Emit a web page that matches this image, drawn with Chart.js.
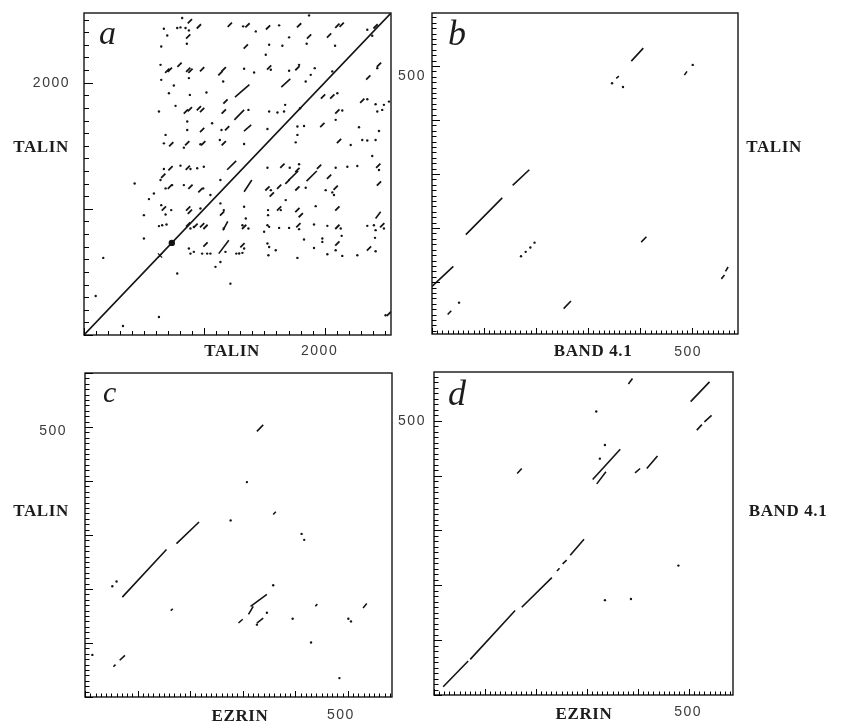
<!DOCTYPE html>
<html>
<head>
<meta charset="utf-8">
<script src="https://cdn.jsdelivr.net/npm/chart.js@4.4.1/dist/chart.umd.min.js"></script>
<style>
  html, body { margin: 0; padding: 0; background: #fff; }
  #wrap { position: relative; width: 841px; height: 721px; overflow: hidden; }
  #wrap canvas { position: absolute; left: 0; top: 0; }
</style>
</head>
<body>
<div id="wrap">
  <canvas id="panelA" width="841" height="721"></canvas>
  <canvas id="panelB" width="841" height="721"></canvas>
  <canvas id="panelC" width="841" height="721"></canvas>
  <canvas id="panelD" width="841" height="721"></canvas>
</div>
<script>
// ---- panel a: talin vs talin (residues) ----
const aSegments = [
  [0, 0, 2552, 2552],
  [1255, 1885, 1375, 1985], [1640, 1965, 1715, 2030], [1330, 1615, 1390, 1665],
  [1250, 1705, 1331, 1784], [1190, 1310, 1265, 1380], [1155, 830, 1195, 900],
  [1120, 645, 1204, 751], [1331, 1135, 1395, 1228], [1700, 1225, 1780, 1300],
  [1850, 1220, 1935, 1300], [2424, 923, 2466, 976]
];
const aDashes = [
  [880, 2486], [955, 2446], [1212, 2459], [866, 2366], [692, 2094], [714, 2102], [794, 2141],
  [866, 2102], [885, 2094], [982, 2107], [1162, 2107], [1134, 2075], [847, 1771], [880, 1789],
  [955, 1797], [982, 1784], [1162, 1771], [1176, 1850], [1190, 1639], [982, 1625], [725, 1512],
  [858, 1519], [991, 1519], [1162, 1519], [719, 1321], [863, 1326],
  [1359, 2454], [1530, 2438], [1788, 2454], [2142, 2459], [2106, 2451], [2424, 2446], [1871, 2366],
  [2037, 2374], [1345, 2287], [1539, 2120], [1774, 2115], [2452, 2141], [2363, 2041], [1987, 1890],
  [2064, 1890], [2313, 1856], [2106, 1771], [1981, 1665], [2120, 1538], [1649, 1342], [1774, 1308],
  [1954, 1334], [2446, 1342],
  [659, 1262], [714, 1175], [885, 1175], [968, 1148], [664, 1003], [866, 1003], [880, 976],
  [1148, 963], [866, 876], [927, 865], [982, 870], [1010, 857], [1010, 717],
  [2037, 1254], [1691, 1215], [1525, 1162], [1561, 1114], [1622, 1175], [1774, 1162], [2092, 1167],
  [2452, 1201], [1774, 990], [1802, 950], [1622, 1003], [2106, 1003], [1331, 857], [1782, 870],
  [2106, 857], [2479, 870], [1317, 712], [2106, 725], [2369, 685], [2535, 169]
];
const aDots = [
  [664, 2427], [692, 2374], [642, 2287], [816, 2512], [844, 2433], [775, 2433], [802, 2438],
  [872, 2414], [855, 2308], [636, 2141], [642, 2022], [872, 2036], [1157, 2009], [747, 1977],
  [706, 1916], [880, 1903], [1018, 1922], [623, 1771], [761, 1816], [858, 1692], [1065, 1678],
  [1143, 1625], [858, 1625], [678, 1586], [664, 1519], [968, 1512], [1129, 1546], [830, 1485],
  [664, 1316], [802, 1342], [941, 1321], [996, 1334], [885, 1316],
  [1323, 2446], [1622, 2454], [1428, 2406], [2355, 2419], [1871, 2533], [1705, 2359], [2396, 2372],
  [1539, 2300], [1649, 2292], [1851, 2308], [2087, 2292], [1511, 2221], [1553, 2102], [1705, 2094],
  [1788, 2141], [1918, 2115], [2064, 2089], [2438, 2115], [1331, 2110], [1414, 2081], [1843, 2009],
  [1885, 2062], [2106, 1916], [2355, 1869], [2424, 1829], [2493, 1824], [2535, 1850], [1672, 1824],
  [1796, 1797], [1367, 1784], [1539, 1771], [1608, 1763], [1663, 1771], [2092, 1705], [2147, 1779],
  [2438, 1771], [2479, 1784], [1829, 1657], [1774, 1652], [1525, 1633], [2286, 1646], [2452, 1617],
  [1774, 1586], [1760, 1527], [1331, 1514], [2217, 1506], [2313, 1546], [2355, 1541], [2424, 1546],
  [2396, 1419], [1525, 1326], [1710, 1326], [1788, 1353], [2092, 1326], [2189, 1334], [2272, 1339],
  [2452, 1308],
  [636, 1228], [733, 1188], [678, 1162], [830, 1188], [991, 1162], [581, 1122], [540, 1077],
  [1051, 1109], [1134, 1228], [421, 1201], [642, 1029], [725, 990], [678, 955], [968, 1003],
  [1134, 1043], [1162, 990], [498, 950], [623, 863], [650, 870], [686, 876], [885, 844], [913, 857],
  [1162, 844], [498, 765], [872, 685], [885, 645], [913, 659], [982, 645], [1024, 645], [1051, 645],
  [1176, 659], [1266, 645], [1093, 540], [1134, 579], [775, 487], [1217, 407], [623, 143], [324, 71],
  [97, 309], [160, 611],
  [1553, 1148], [2064, 1130], [2078, 1109], [2009, 1148], [1843, 1167], [1331, 1016], [1345, 923],
  [1636, 990], [1530, 990], [1530, 950], [1926, 1021], [1677, 1069], [1317, 870], [1367, 844],
  [1525, 870], [1539, 857], [1497, 818], [1622, 849], [1705, 849], [1788, 839], [1912, 876],
  [2023, 865], [2134, 844], [2355, 865], [2410, 870], [2424, 831], [2493, 844], [2142, 786],
  [2419, 770], [1331, 685], [1290, 646], [1317, 651], [1525, 725], [1539, 698], [1594, 672],
  [1829, 757], [1981, 765], [1981, 738], [1912, 690], [2092, 672], [2147, 627], [2023, 640],
  [1774, 611], [1533, 632], [2272, 632], [2424, 664], [2507, 156]
];
const aBlobs = [[730, 730]];
const aCrosses = [[632, 630]];

// ---- panel b: band 4.1 (x) vs talin (y) ----
const bSegments = [
  [383, 509, 406, 533], [354, 477, 359, 481], [485, 483, 490, 490], [155, 279, 187, 308],
  [65, 188, 135, 256], [402, 174, 412, 184], [0, 92, 41, 129], [30, 40, 37, 47],
  [253, 51, 267, 65], [556, 106, 562, 113], [564, 120, 569, 128]
];
const bDots = [[346, 468], [367, 461], [501, 502], [171, 148], [180, 156], [189, 164], [197, 173], [52, 62]];

// ---- panel c: ezrin (x) vs talin (y) ----
const cSegments = [
  [71, 185, 155, 273], [174, 284, 217, 324], [327, 492, 339, 504], [358, 338, 363, 343],
  [315, 168, 346, 190], [311, 153, 320, 168], [327, 137, 339, 146], [292, 137, 300, 144],
  [163, 160, 167, 163], [438, 168, 442, 172], [529, 165, 536, 173], [54, 56, 58, 60], [66, 68, 76, 77]
];
const cDots = [
  [52, 205], [60, 214], [308, 398], [277, 327], [412, 302], [417, 291], [358, 207], [346, 156],
  [327, 134], [395, 145], [430, 101], [501, 145], [506, 140], [484, 35], [14, 78]
];

// ---- panel d: ezrin (x) vs band 4.1 (y) ----
const dSegments = [
  [18, 15, 67, 62], [71, 65, 159, 154], [172, 160, 231, 214], [241, 226, 246, 231],
  [252, 239, 260, 246], [267, 255, 294, 284], [503, 535, 540, 571], [515, 483, 525, 493],
  [530, 498, 544, 510], [381, 567, 389, 577], [311, 393, 365, 448], [319, 385, 337, 407],
  [394, 405, 404, 413], [417, 413, 438, 436], [163, 404, 172, 413]
];
const dDots = [[318, 517], [335, 456], [325, 431], [479, 236], [335, 173], [386, 175]];

// tick labels
const aTickLabels = [2000];
const bXTickLabels = [500];
const bYTickLabels = [500];
const cXTickLabels = [500];
const cYTickLabels = [500];
const dXTickLabels = [500];
const dYTickLabels = [500];

const INK = '#141414';
const SERIF = '"Liberation Serif", "DejaVu Serif", serif';
const SANS = '"Liberation Sans", "DejaVu Sans", sans-serif';

function segData(segs) {
    const out = [];
    segs.forEach(s => {
        out.push({x: s[0], y: s[1]}, {x: s[2], y: s[3]}, {x: s[2], y: null});
    });
    return out;
}

function pts(list) {
    return list.map(p => ({x: p[0], y: p[1]}));
}

// frame, inward ticks and texts, drawn from the chart's own scales
function frameTicks(o) {
    return {
        id: 'frameTicks',
        afterDatasetsDraw(chart) {
            const {ctx, chartArea: area, scales: {x, y}} = chart;
            ctx.save();
            ctx.strokeStyle = INK;
            ctx.lineWidth = 1.4;
            ctx.strokeRect(area.left, area.top, area.right - area.left, area.bottom - area.top);

            ctx.strokeStyle = '#000';
            ctx.lineWidth = 1;
            ctx.beginPath();
            for (let i = 0; i * o.minor <= x.max; i++) {
                const v = i * o.minor;
                const px = Math.round(x.getPixelForValue(v)) + 0.5;
                const len = (v % o.major === 0) ? o.xMajorLen : o.xMinorLen;
                ctx.moveTo(px, area.bottom);
                ctx.lineTo(px, area.bottom - len);
            }
            for (let i = 0; i * o.minor <= y.max; i++) {
                const v = i * o.minor;
                if (v < y.min) continue;
                const py = Math.round(y.getPixelForValue(v)) + 0.5;
                const len = (v % o.major === 0) ? o.yMajorLen : o.yMinorLen;
                ctx.moveTo(area.left, py);
                ctx.lineTo(area.left + len, py);
            }
            ctx.stroke();

            // tick labels
            ctx.fillStyle = '#3a3a3a';
            ctx.font = '14px ' + SANS;
            ctx.letterSpacing = '1.5px';
            ctx.textBaseline = 'middle';
            ctx.textAlign = 'center';
            o.xLabels.values.forEach(v => {
                ctx.fillText(String(v), x.getPixelForValue(v) + o.xLabels.dx, o.xLabels.y);
            });
            ctx.textAlign = o.yLabels.align;
            o.yLabels.values.forEach(v => {
                ctx.fillText(String(v), o.yLabels.x, y.getPixelForValue(v) + o.yLabels.dy);
            });

            // titles
            ctx.fillStyle = '#1c1c1c';
            ctx.font = 'bold 17px ' + SERIF;
            ctx.letterSpacing = '0.6px';
            ctx.textAlign = 'center';
            o.titles.forEach(t => ctx.fillText(t.text, t.x, t.y));

            // panel letter
            ctx.letterSpacing = '0px';
            ctx.font = 'italic ' + o.letter.size + 'px ' + SERIF;
            ctx.textAlign = 'left';
            ctx.textBaseline = 'alphabetic';
            ctx.fillText(o.letter.text, o.letter.x, o.letter.y);
            ctx.restore();
        }
    };
}

function makePanel(id, cfg) {
    const datasets = [{
        data: segData(cfg.segments),
        borderColor: INK,
        borderWidth: 1.6,
        pointRadius: 0,
        showLine: true,
        spanGaps: false,
        tension: 0
    }, {
        data: pts(cfg.dots),
        showLine: false,
        pointStyle: 'circle',
        pointRadius: 1.2,
        pointBorderWidth: 0,
        pointBackgroundColor: INK
    }];
    if (cfg.dashes) {
        datasets.push({
            data: pts(cfg.dashes),
            showLine: false,
            pointStyle: 'line',
            pointRotation: -45,
            pointRadius: 3,
            pointBorderWidth: 1.8,
            pointBorderColor: INK
        });
    }
    if (cfg.blobs) {
        datasets.push({
            data: pts(cfg.blobs),
            showLine: false,
            pointRadius: 3.2,
            pointBorderWidth: 0,
            pointBackgroundColor: INK
        });
    }
    if (cfg.crosses) {
        datasets.push({
            data: pts(cfg.crosses),
            showLine: false,
            pointStyle: 'crossRot',
            pointRadius: 3,
            pointBorderWidth: 1.3,
            pointBorderColor: INK
        });
    }

    new Chart(document.getElementById(id), {
        type: 'line',
        data: {datasets},
        options: {
            responsive: false,
            animation: false,
            devicePixelRatio: 1,
            events: [],
            layout: {padding: cfg.padding},
            scales: {
                x: {type: 'linear', min: cfg.xRange[0], max: cfg.xRange[1], display: false},
                y: {type: 'linear', min: cfg.yRange[0], max: cfg.yRange[1], display: false}
            },
            plugins: {
                legend: {display: false},
                tooltip: {enabled: false}
            }
        },
        plugins: [frameTicks(cfg.deco)]
    });
}

document.addEventListener('DOMContentLoaded', () => {
    makePanel('panelA', {
        segments: aSegments, dots: aDots, dashes: aDashes, blobs: aBlobs, crosses: aCrosses,
        xRange: [0, 2552], yRange: [0, 2552],
        padding: {left: 84, top: 13, right: 450, bottom: 386},
        deco: {
            minor: 100, major: 1000, xMinorLen: 4, xMajorLen: 7, yMinorLen: 5, yMajorLen: 9,
            xLabels: {values: aTickLabels, dx: -5, y: 351},
            yLabels: {values: aTickLabels, x: 70, align: 'right', dy: 0},
            titles: [{text: 'TALIN', x: 41, y: 148}, {text: 'TALIN', x: 232, y: 352}],
            letter: {text: 'a', x: 99, y: 44, size: 34}
        }
    });
    makePanel('panelB', {
        segments: bSegments, dots: bDots,
        xRange: [0, 588], yRange: [4, 598],
        padding: {left: 432, top: 13, right: 103, bottom: 387},
        deco: {
            minor: 10, major: 100, xMinorLen: 3.5, xMajorLen: 6, yMinorLen: 4.5, yMajorLen: 8,
            xLabels: {values: bXTickLabels, dx: -4, y: 352},
            yLabels: {values: bYTickLabels, x: 412, align: 'center', dy: 10},
            titles: [{text: 'TALIN', x: 774, y: 148}, {text: 'BAND 4.1', x: 593, y: 352}],
            letter: {text: 'b', x: 448, y: 45, size: 36}
        }
    });
    makePanel('panelC', {
        segments: cSegments, dots: cDots,
        xRange: [0, 584], yRange: [0, 600],
        padding: {left: 85, top: 373, right: 449, bottom: 24},
        deco: {
            minor: 10, major: 100, xMinorLen: 3.5, xMajorLen: 6, yMinorLen: 4.5, yMajorLen: 8,
            xLabels: {values: cXTickLabels, dx: -7, y: 715},
            yLabels: {values: cYTickLabels, x: 67, align: 'right', dy: 4},
            titles: [{text: 'TALIN', x: 41, y: 512}, {text: 'EZRIN', x: 240, y: 717}],
            letter: {text: 'c', x: 103, y: 402, size: 30}
        }
    });
    makePanel('panelD', {
        segments: dSegments, dots: dDots,
        xRange: [0, 586], yRange: [0, 589],
        padding: {left: 434, top: 372, right: 108, bottom: 26},
        deco: {
            minor: 10, major: 100, xMinorLen: 3.5, xMajorLen: 6, yMinorLen: 4.5, yMajorLen: 8,
            xLabels: {values: dXTickLabels, dx: -1, y: 712},
            yLabels: {values: dYTickLabels, x: 412, align: 'center', dy: 0},
            titles: [{text: 'BAND 4.1', x: 788, y: 512}, {text: 'EZRIN', x: 584, y: 715}],
            letter: {text: 'd', x: 448, y: 405, size: 36}
        }
    });
});
</script>
</body>
</html>
